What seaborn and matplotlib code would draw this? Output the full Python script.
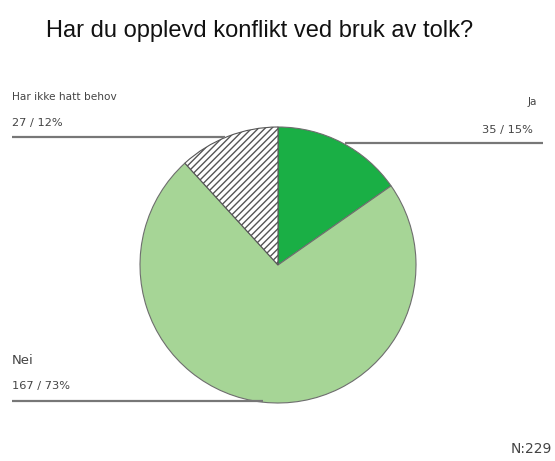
import matplotlib
matplotlib.use("Agg")
import matplotlib.pyplot as plt
import seaborn as sns

# Data
categories = ["Ja", "Nei", "Har ikke hatt behov"]
counts = [35, 167, 27]
percents = [15, 73, 12]
total_n = 229
title = "Har du opplevd konflikt ved bruk av tolk?"

sns.set_theme(style="white")
plt.rcParams["font.family"] = ["Liberation Sans", "DejaVu Sans"]

W, H = 555, 461
fig = plt.figure(figsize=(W / 100, H / 100), dpi=100)
ax = fig.add_axes([0, 0, 1, 1])


def py(y):
    # pixel row -> data y (y up)
    return H - y


colors = ["#1aaf45", "#a6d596", "white"]
cx, cy, r = 278, py(265), 138
wedges, _ = ax.pie(
    counts, colors=colors, startangle=90, counterclock=False,
    center=(cx, cy), radius=r, frame=True,
    wedgeprops=dict(edgecolor="#6e6e6e", linewidth=0.8),
)
wedges[2].set_hatch("/////")
wedges[2].set_edgecolor("#555555")
ax.set_xlim(0, W)
ax.set_ylim(0, H)
ax.set_aspect("equal")
ax.axis("off")

line_kw = dict(color="#777777", linewidth=1.6, solid_capstyle="butt")
lab = dict(family="DejaVu Sans", color="#444444")

# Har ikke hatt behov (upper left)
ax.plot([12, 225], [py(137), py(137)], **line_kw)
ax.text(12, py(97), categories[2], ha="left", va="center", fontsize=7.6, **lab)
ax.text(12, py(123), f"{counts[2]} / {percents[2]}%", ha="left", va="center", fontsize=8.2, **lab)

# Ja (upper right)
ax.plot([345, 543], [py(143), py(143)], **line_kw)
ax.text(537, py(102), categories[0], ha="right", va="center", fontsize=7.6, **lab)
ax.text(533, py(130), f"{counts[0]} / {percents[0]}%", ha="right", va="center", fontsize=8.2, **lab)

# Nei (lower left)
ax.plot([12, 263], [py(401), py(401)], **line_kw)
ax.text(12, py(360), categories[1], ha="left", va="center", fontsize=9.5, **lab)
ax.text(12, py(386), f"{counts[1]} / {percents[1]}%", ha="left", va="center", fontsize=8.2, **lab)

ax.text(260, py(31), title, ha="center", va="center", fontsize=17, color="#111111")
ax.text(552, py(449), f"N:{total_n}", ha="right", va="center", fontsize=10, **lab)

fig.savefig("out.png", dpi=100)
